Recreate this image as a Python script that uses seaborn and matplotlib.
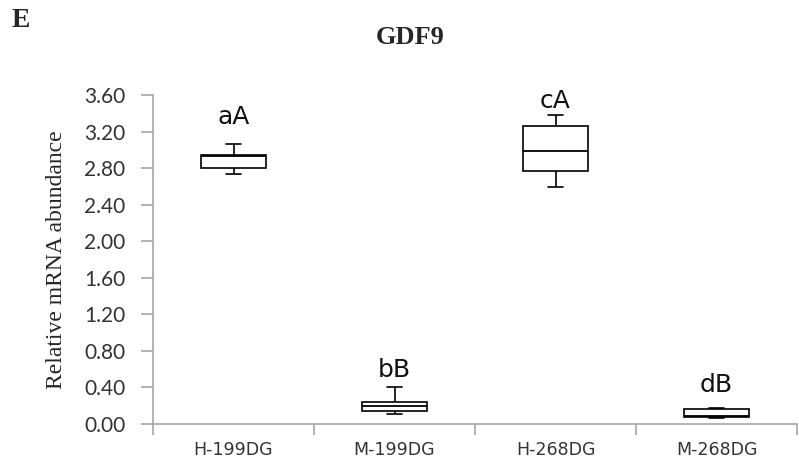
import numpy as np
import pandas as pd
import matplotlib
matplotlib.use("Agg")
import matplotlib.pyplot as plt
import seaborn as sns

categories = ["H-199DG", "M-199DG", "H-268DG", "M-268DG"]
# five-number summaries: min, Q1, median, Q3, max
h199 = [2.74, 2.80, 2.93, 2.94, 3.06]
m199 = [0.11, 0.145, 0.20, 0.24, 0.40]
h268 = [2.59, 2.77, 2.99, 3.26, 3.38]
m268 = [0.065, 0.08, 0.09, 0.16, 0.175]
letters = ["aA", "bB", "cA", "dB"]
letter_y = [3.28, 0.51, 3.46, 0.345]
yticks = [0.0, 0.4, 0.8, 1.2, 1.6, 2.0, 2.4, 2.8, 3.2, 3.6]

df = pd.DataFrame({
    "group": np.repeat(categories, 5),
    "value": h199 + m199 + h268 + m268,
})

sns.set_theme(style="white")
fig = plt.figure(figsize=(7.99, 4.76), dpi=100)
ax = fig.add_axes([0.1915, 0.1092, 0.806, 0.6912])

gray = "#a6a6a6"
sns.boxplot(data=df, x="group", y="value", order=categories, ax=ax,
            whis=(0, 100), width=0.4, color="white", fill=True,
            linecolor="black", linewidth=1.2, showfliers=False,
            capwidths=0.09,
            boxprops=dict(facecolor="white", edgecolor="black"),
            medianprops=dict(color="black", linewidth=1.3))

ax.set_ylim(0, 3.6)
ax.set_xlim(-0.5, 3.5)
ax.set_yticks(yticks)
ax.set_yticklabels([f"{v:.2f}" for v in yticks], fontfamily="Lato", fontsize=15, color="#333333")
ax.set_xticks(range(len(categories)))
ax.set_xticklabels(categories, fontfamily="DejaVu Sans", fontsize=12.5, color="#333333")
ax.set_xticks(np.arange(-0.5, 4.0, 1.0), minor=True)
ax.tick_params(axis="x", which="major", length=0, pad=12)
ax.tick_params(axis="x", which="minor", length=8, width=1.2, color=gray, bottom=True)
ax.tick_params(axis="y", length=9, width=1.2, color=gray, left=True, pad=11)

for s in ["top", "right"]:
    ax.spines[s].set_visible(False)
for s in ["left", "bottom"]:
    ax.spines[s].set_color(gray)
    ax.spines[s].set_linewidth(1.2)

ax.set_xlabel("")
ax.set_ylabel("Relative mRNA abundance", fontfamily="Liberation Serif", fontsize=17, labelpad=12)

for i, (t, yv) in enumerate(zip(letters, letter_y)):
    ax.text(i, yv, t, ha="center", va="baseline", fontfamily="DejaVu Sans", fontsize=18, color="#111111")

fig.text(0.513, 0.922, "GDF9", ha="center", va="center", fontfamily="Liberation Serif",
         fontweight="bold", fontsize=19)
fig.text(0.014, 0.957, "E", ha="left", va="center", fontfamily="Liberation Serif",
         fontweight="bold", fontsize=20)

fig.savefig("out.png", dpi=100)
